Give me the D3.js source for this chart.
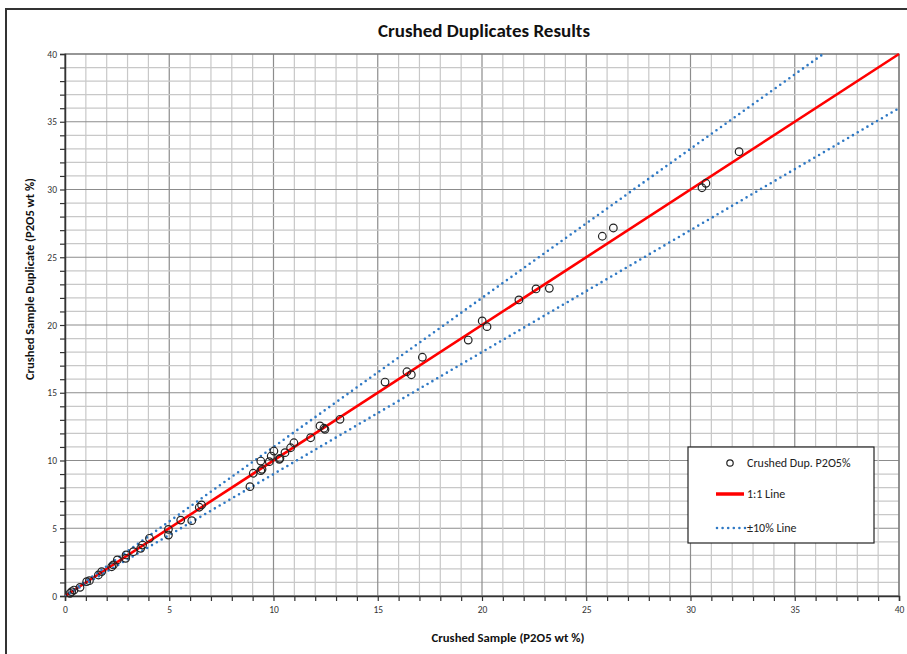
<!DOCTYPE html>
<html>
<head>
<meta charset="utf-8">
<script src="https://cdn.jsdelivr.net/npm/d3@7/dist/d3.min.js"></script>
<style>
  html, body { margin: 0; padding: 0; background: #fff; }
  svg { display: block; }
  text { font-family: Carlito, "Open Sans", "Liberation Sans", sans-serif; }
</style>
</head>
<body>
<svg id="chart" width="907" height="654"></svg>
<script>
// ---- data ----
const original = [0.24, 0.32, 0.43, 0.72, 1.04, 1.17, 1.60, 1.76, 2.24, 2.32, 2.51, 2.91, 2.93, 3.28, 3.63, 3.72, 4.05, 4.96, 4.96, 5.55, 6.08, 6.44, 6.55,
  8.87, 9.03, 9.39, 9.45, 9.39, 9.80, 9.89, 10.02, 10.28, 10.31, 10.55, 10.82, 10.98, 11.78, 12.23, 12.42, 12.47, 13.19,
  15.35, 16.40, 16.61, 17.14, 19.34, 20.01, 20.24, 21.77, 22.59, 23.23, 25.77, 26.30, 30.55, 30.74, 32.33];
const duplicate = [0.20, 0.32, 0.44, 0.64, 1.06, 1.13, 1.55, 1.80, 2.16, 2.29, 2.66, 2.78, 3.03, 3.27, 3.52, 3.76, 4.26, 4.92, 4.50, 5.60, 5.56, 6.55, 6.72,
  8.07, 9.06, 9.25, 9.35, 9.96, 9.91, 10.33, 10.70, 10.09, 10.16, 10.58, 10.94, 11.31, 11.68, 12.55, 12.38, 12.30, 13.04,
  15.79, 16.55, 16.33, 17.62, 18.89, 20.30, 19.88, 21.85, 22.66, 22.71, 26.55, 27.16, 30.13, 30.46, 32.79];
const lineFactors = [1.0, 1.1, 0.9];
const majorTicks = [0, 5, 10, 15, 20, 25, 30, 35, 40];
const minorTicks = d3.range(0, 41, 1);
const titleText = "Crushed Duplicates Results";
const xTitle = "Crushed Sample (P2O5 wt %)";
const yTitle = "Crushed Sample Duplicate (P2O5 wt %)";
const legendLabels = ["Crushed Dup. P2O5%", "1:1 Line", "\u00b110% Line"];

// ---- layout ----
const svg = d3.select("#chart");
const L = 65, R = 899, T = 54, B = 596;
const x = d3.scaleLinear().domain([0, 40]).range([L, R]);
const y = d3.scaleLinear().domain([0, 40]).range([B, T]);
const blue = "#2e78c4", red = "#ff0000";

// outer frame
svg.append("rect").attr("x", 6).attr("y", 9).attr("width", 920).attr("height", 660)
  .attr("fill", "#fff").attr("stroke", "#333").attr("stroke-width", 2);

// title
svg.append("text").attr("x", 484).attr("y", 37).attr("text-anchor", "middle")
  .attr("font-size", 17).attr("font-weight", "bold").attr("fill", "#111")
  .attr("textLength", 212).attr("lengthAdjust", "spacingAndGlyphs").text(titleText);

// grid
const grid = svg.append("g");
minorTicks.forEach(v => {
  const major = v % 5 === 0;
  grid.append("line").attr("x1", x(v)).attr("x2", x(v)).attr("y1", T).attr("y2", B)
    .attr("stroke", major ? "#8c8c8c" : "#c8c8c8").attr("stroke-width", 1.2);
  grid.append("line").attr("x1", L).attr("x2", R).attr("y1", y(v)).attr("y2", y(v))
    .attr("stroke", major ? "#8c8c8c" : "#c8c8c8").attr("stroke-width", 1.2);
});
// plot border
svg.append("rect").attr("x", L).attr("y", T).attr("width", R - L).attr("height", B - T)
  .attr("fill", "none").attr("stroke", "#777").attr("stroke-width", 1.2);

// axes
const xAxis = svg.append("g").attr("transform", `translate(0,${B})`)
  .call(d3.axisBottom(x).tickValues(minorTicks).tickSize(5).tickFormat(d => majorTicks.includes(d) ? d : ""));
const yAxis = svg.append("g").attr("transform", `translate(${L},0)`)
  .call(d3.axisLeft(y).tickValues(minorTicks).tickSize(5).tickFormat(d => majorTicks.includes(d) ? d : ""));
[xAxis, yAxis].forEach(a => {
  a.select(".domain").attr("stroke", "#333").attr("stroke-width", 1.5);
  a.selectAll(".tick line").attr("stroke", "#333").attr("stroke-width", 1.2);
  a.selectAll(".tick text").attr("fill", "#333").attr("font-size", 9.5)
    .attr("font-family", "Carlito, 'Open Sans', sans-serif");
});
xAxis.selectAll(".tick text").attr("dy", "0.9em");

// axis titles
svg.append("text").attr("x", 508).attr("y", 642).attr("text-anchor", "middle")
  .attr("font-size", 11).attr("font-weight", "bold").attr("fill", "#111")
  .attr("textLength", 153).attr("lengthAdjust", "spacingAndGlyphs").text(xTitle);
svg.append("text").attr("transform", "translate(34,279) rotate(-90)").attr("text-anchor", "middle")
  .attr("font-size", 11).attr("font-weight", "bold").attr("fill", "#111")
  .attr("textLength", 202).attr("lengthAdjust", "spacingAndGlyphs").text(yTitle);

// lines
svg.append("clipPath").attr("id", "plotclip").append("rect")
  .attr("x", L).attr("y", T - 2).attr("width", R - L + 2).attr("height", B - T + 2);
const lines = svg.append("g").attr("clip-path", "url(#plotclip)");
lineFactors.forEach((f, i) => {
  const xe = Math.min(40, 40 / f);
  const l = lines.append("line")
    .attr("x1", x(0)).attr("y1", y(0)).attr("x2", x(xe)).attr("y2", y(xe * f));
  if (i === 0) {
    l.attr("stroke", red).attr("stroke-width", 2.6);
  } else {
    l.attr("stroke", blue).attr("stroke-width", 2.6).attr("stroke-linecap", "round")
      .attr("stroke-dasharray", "0 5.6");
  }
});

// points
svg.append("g").selectAll("circle").data(original.map((v, i) => [v, duplicate[i]]))
  .join("circle").attr("cx", d => x(d[0])).attr("cy", d => y(d[1])).attr("r", 3.8)
  .attr("fill", "none").attr("stroke", "#222").attr("stroke-width", 1.2);

// legend
const lg = svg.append("g");
lg.append("rect").attr("x", 688).attr("y", 447).attr("width", 186).attr("height", 96)
  .attr("fill", "#fff").attr("stroke", "#222").attr("stroke-width", 1.2);
lg.append("circle").attr("cx", 730).attr("cy", 463).attr("r", 3.2)
  .attr("fill", "none").attr("stroke", "#222").attr("stroke-width", 1.2);
lg.append("line").attr("x1", 716).attr("x2", 744).attr("y1", 494).attr("y2", 494)
  .attr("stroke", red).attr("stroke-width", 3.5);
lg.append("line").attr("x1", 717).attr("x2", 745).attr("y1", 528).attr("y2", 528)
  .attr("stroke", blue).attr("stroke-width", 2.6).attr("stroke-linecap", "round").attr("stroke-dasharray", "0 5.6");
[463, 494, 528].forEach((yy, i) => {
  lg.append("text").attr("x", 747).attr("y", yy + 4).attr("font-size", 12).attr("fill", "#222")
    .text(legendLabels[i]);
});
</script>
</body>
</html>
